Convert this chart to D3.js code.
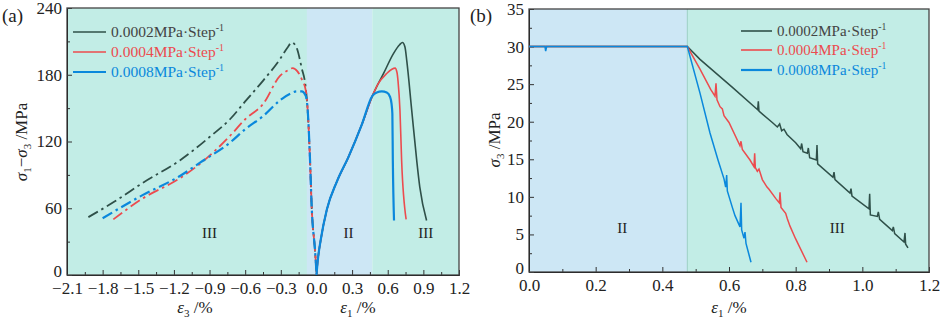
<!DOCTYPE html>
<html>
<head>
<meta charset="utf-8">
<script src="https://cdn.jsdelivr.net/npm/d3@7"></script>
<style>
  body { margin: 0; background: #fff; }
  svg text { font-family: "Liberation Serif", "Times New Roman", serif; }
</style>
</head>
<body>
<div id="chart"></div>
<script>
// Series names and colours
const seriesNames = ["0.0002MPa·Step", "0.0004MPa·Step", "0.0008MPa·Step"];
const seriesColors = ["#2f5049", "#ec4b4e", "#0a88dc"];

// (a) lateral strain branch (eps3, sigma1 - sigma3), dash-dot
const aLat02 = [[-1.92,52],[-1.70,66],[-1.46,83],[-1.15,103],[-0.90,124],[-0.728,140],[-0.60,156],[-0.447,175],[-0.307,194],[-0.24,205],[-0.208,209],[-0.17,205],[-0.124,186],[-0.09,168],[-0.075,150],[-0.054,103],[-0.04,61],[-0.012,22],[0,3]];
const aLat04 = [[-1.71,50],[-1.46,69],[-1.149,87],[-0.98,100],[-0.728,125],[-0.60,140],[-0.447,154],[-0.307,179],[-0.24,184],[-0.20,186],[-0.16,183],[-0.124,176],[-0.09,166],[-0.075,150],[-0.054,103],[-0.04,61],[-0.012,22],[0,3]];
const aLat08 = [[-1.80,51],[-1.46,72],[-1.149,89],[-0.98,101],[-0.728,119],[-0.60,131],[-0.447,143],[-0.307,157],[-0.22,163],[-0.166,165],[-0.124,165],[-0.09,161],[-0.075,150],[-0.054,103],[-0.04,61],[-0.012,22],[0,3]];

// (a) axial strain branch (eps1, sigma1 - sigma3), solid
const aAx02 = [[0,0],[0.012,14],[0.035,31],[0.088,59],[0.172,84],[0.269,106],[0.381,135],[0.471,161],[0.52,172],[0.564,181],[0.648,199],[0.70,207],[0.724,209],[0.745,205],[0.761,192],[0.802,148],[0.844,103],[0.87,79],[0.927,49]];
const aAx04 = [[0,0],[0.012,14],[0.035,31],[0.088,59],[0.172,84],[0.269,106],[0.381,135],[0.471,161],[0.52,172],[0.59,181],[0.635,185],[0.662,186],[0.678,182],[0.687,174],[0.703,148],[0.717,103],[0.755,50]];
const aAx08 = [[0,0],[0.012,14],[0.035,31],[0.088,59],[0.172,84],[0.269,106],[0.381,135],[0.471,161],[0.508,164],[0.55,165],[0.592,164],[0.62,160],[0.632,154],[0.639,145],[0.643,103],[0.653,49]];

// (b) confining stress sigma3 vs eps1
const b02 = [[0,30],[0.475,30],[0.513,28.3],[0.612,24.5],[0.686,21.6],[0.688,22.7],[0.690,21.4],[0.73,19.9],[0.745,19.3],[0.752,19.7],[0.758,18.8],[0.765,19.0],[0.774,18.3],[0.80,17.2],[0.815,16.4],[0.818,17.1],[0.822,16.0],[0.835,15.8],[0.838,16.5],[0.842,15.2],[0.862,14.9],[0.864,16.9],[0.866,14.4],[0.912,12.6],[0.915,13.3],[0.918,12.3],[0.963,10.5],[0.966,11.1],[0.969,10.1],[1.02,8.4],[1.022,10.4],[1.024,7.6],[1.045,7.4],[1.048,8.0],[1.052,7.0],[1.09,5.5],[1.093,6.0],[1.097,5.1],[1.125,4.0],[1.128,5.2],[1.13,3.7],[1.137,3.2]];
const b04 = [[0,30],[0.475,30],[0.513,27.0],[0.545,24.3],[0.558,23.4],[0.561,25.1],[0.564,22.9],[0.573,22.0],[0.58,21.7],[0.585,20.8],[0.60,19.9],[0.633,16.8],[0.636,17.4],[0.64,16.3],[0.663,14.9],[0.675,14.0],[0.677,15.8],[0.679,13.9],[0.685,13.4],[0.69,13.7],[0.70,12.3],[0.714,11.3],[0.72,11.0],[0.74,9.8],[0.751,9.2],[0.753,10.6],[0.756,8.6],[0.77,7.8],[0.775,7.1],[0.783,6.1],[0.80,4.4],[0.834,1.3]];
const b08 = [[0,30],[0.048,30],[0.05,29.4],[0.053,30],[0.475,30],[0.513,23.8],[0.543,18.5],[0.567,14.9],[0.585,12.4],[0.590,11.3],[0.593,12.9],[0.595,10.8],[0.61,8.6],[0.618,7.5],[0.633,6.0],[0.636,9.2],[0.638,5.6],[0.645,4.5],[0.648,5.3],[0.651,3.8],[0.66,2.3],[0.666,1.3]];

// Stage regions
const aStages = [{from: -2.1, to: -0.08, name: "III"}, {from: -0.08, to: 0.47, name: "II"}, {from: 0.47, to: 1.2, name: "III"}];
const bStages = [{from: 0, to: 0.475, name: "II"}, {from: 0.475, to: 1.2, name: "III"}];

// Tick labels
const aXTicks = [-2.1, -1.8, -1.5, -1.2, -0.9, -0.6, -0.3, 0.0, 0.3, 0.6, 0.9, 1.2];
const aYTicks = [0, 60, 120, 180, 240];
const bXTicks = [0.0, 0.2, 0.4, 0.6, 0.8, 1.0, 1.2];
const bYTicks = [0, 5, 10, 15, 20, 25, 30, 35];

const stageColor = {II: "#cde7f5", III: "#c2ede6"};

const svg = d3.select("#chart").append("svg")
  .attr("width", 941)
  .attr("height", 321);

// Dibuja un panel con fondo, ejes, curvas
function panel(opts) {
  const x = d3.scaleLinear().domain(opts.xDomain).range(opts.xRange);
  const y = d3.scaleLinear().domain(opts.yDomain).range(opts.yRange);
  const g = svg.append("g");

  // background stages
  g.selectAll(".stage").data(opts.stages).join("rect")
    .attr("x", d => x(d.from))
    .attr("y", opts.yRange[1])
    .attr("width", d => x(d.to) - x(d.from))
    .attr("height", opts.yRange[0] - opts.yRange[1])
    .attr("fill", d => stageColor[d.name]);

  if (opts.boundaryLine) {
    g.append("line")
      .attr("x1", x(opts.boundaryLine)).attr("x2", x(opts.boundaryLine))
      .attr("y1", opts.yRange[1]).attr("y2", opts.yRange[0])
      .attr("stroke", "#9ccfc5").attr("stroke-width", 1);
  }

  // stage labels
  g.selectAll(".stagelbl").data(opts.stageLabels).join("text")
    .attr("x", d => x(d.x))
    .attr("y", d => y(d.y))
    .attr("text-anchor", "middle")
    .attr("font-size", 15)
    .attr("fill", "#222")
    .text(d => d.name);

  // minor ticks
  const minorX = d3.axisBottom(x).tickValues(opts.xMinor).tickSize(-3).tickFormat("");
  const minorY = d3.axisLeft(y).tickValues(opts.yMinor).tickSize(-3).tickFormat("");
  g.append("g").attr("transform", `translate(0,${opts.yRange[0]})`).call(minorX).call(s => s.select(".domain").remove());
  g.append("g").attr("transform", `translate(${opts.xRange[0]},0)`).call(minorY).call(s => s.select(".domain").remove());

  const xAxis = d3.axisBottom(x).tickValues(opts.xTicks).tickSize(-5).tickPadding(7).tickFormat(d3.format(".1f"));
  const yAxis = d3.axisLeft(y).tickValues(opts.yTicks).tickSize(-5).tickPadding(5).tickFormat(d3.format("d"));
  const gx = g.append("g").attr("transform", `translate(0,${opts.yRange[0]})`).call(xAxis);
  const gy = g.append("g").attr("transform", `translate(${opts.xRange[0]},0)`).call(yAxis);
  [gx, gy].forEach(a => {
    a.selectAll("text").attr("font-family", "Liberation Serif").attr("font-size", 17).attr("fill", "#222");
  });
  gy.selectAll(".tick").filter(d => d == 0).select("text").attr("dy", "0.1em");
  g.selectAll(".tick line").attr("stroke", "#333");

  // frame
  g.append("rect")
    .attr("x", opts.xRange[0]).attr("y", opts.yRange[1])
    .attr("width", opts.xRange[1] - opts.xRange[0])
    .attr("height", opts.yRange[0] - opts.yRange[1])
    .attr("fill", "none").attr("stroke", "#444").attr("stroke-width", 1.3);

  return {x, y, g};
}

// Panel (a)
const pa = panel({
  xDomain: [-2.1, 1.2], xRange: [67, 459],
  yDomain: [0, 240], yRange: [275, 8],
  stages: aStages,
  stageLabels: [{x: -0.9, y: 33, name: "III"}, {x: 0.27, y: 33, name: "II"}, {x: 0.92, y: 33, name: "III"}],
  xTicks: aXTicks, xMinor: aXTicks.slice(0, -1).map(v => v + 0.15),
  yTicks: aYTicks, yMinor: [30, 90, 150, 210]
});

const lineA = d3.line().x(d => pa.x(d[0])).y(d => pa.y(d[1])).curve(d3.curveMonotoneX);
const latSeries = [aLat02, aLat04, aLat08];
const axSeries = [aAx02, aAx04, aAx08];
latSeries.forEach((s, i) => {
  pa.g.append("path").datum(s)
    .attr("d", lineA)
    .attr("fill", "none")
    .attr("stroke", seriesColors[i])
    .attr("stroke-width", i == 2 ? 2.2 : 1.8)
    .attr("stroke-dasharray", "11,4,2.5,4");
});
axSeries.forEach((s, i) => {
  pa.g.append("path").datum(s)
    .attr("d", lineA)
    .attr("fill", "none")
    .attr("stroke", seriesColors[i])
    .attr("stroke-width", i == 2 ? 2.2 : 1.6);
});

// Panel (b)
const pb = panel({
  xDomain: [0, 1.2], xRange: [529, 929],
  yDomain: [0, 35], yRange: [272, 9],
  stages: bStages,
  boundaryLine: 0.475,
  stageLabels: [{x: 0.28, y: 5.2, name: "II"}, {x: 0.925, y: 5.2, name: "III"}],
  xTicks: bXTicks, xMinor: [0.1, 0.3, 0.5, 0.7, 0.9, 1.1],
  yTicks: bYTicks, yMinor: [2.5, 7.5, 12.5, 17.5, 22.5, 27.5, 32.5]
});

const lineB = d3.line().x(d => pb.x(d[0])).y(d => pb.y(d[1]));
[b02, b04, b08].forEach((s, i) => {
  pb.g.append("path").datum(s)
    .attr("d", lineB)
    .attr("fill", "none")
    .attr("stroke", seriesColors[i])
    .attr("stroke-width", 1.5);
});

// Legends
function legend(x0, x1, ys, size) {
  seriesNames.forEach((name, i) => {
    svg.append("line")
      .attr("x1", x0).attr("x2", x1)
      .attr("y1", ys[i]).attr("y2", ys[i])
      .attr("stroke", seriesColors[i])
      .attr("stroke-width", i == 2 ? 2.2 : 1.6);
    const t = svg.append("text")
      .attr("x", x1 + 5).attr("y", ys[i] + 5)
      .attr("font-size", size)
      .attr("fill", i == 0 ? "#444" : seriesColors[i]);
    t.append("tspan").text(name);
    t.append("tspan").attr("font-size", size * 0.65).attr("dy", -6).text("-1");
  });
}
legend(73, 106, [32, 52, 72], 15.5);
legend(741, 772, [31, 50, 70], 15);

// Panel letters
svg.append("text").attr("x", 2).attr("y", 22).attr("font-size", 19).attr("fill", "#222").text("(a)");
svg.append("text").attr("x", 470).attr("y", 22).attr("font-size", 19).attr("fill", "#222").text("(b)");

// Axis titles
function xTitle(cx, sym, sub) {
  const t = svg.append("text").attr("x", cx).attr("y", 313).attr("text-anchor", "middle")
    .attr("font-size", 17).attr("fill", "#222");
  t.append("tspan").attr("font-style", "italic").text(sym);
  t.append("tspan").attr("font-size", 11).attr("dy", 4).text(sub);
  t.append("tspan").attr("dy", -4).text(" /%");
}
xTitle(195, "ε", "3");
xTitle(358, "ε", "1");
xTitle(729, "ε", "1");

function yTitle(cx, cy, parts) {
  const t = svg.append("text")
    .attr("transform", `translate(${cx},${cy}) rotate(-90)`)
    .attr("text-anchor", "middle")
    .attr("font-size", 17).attr("fill", "#222");
  parts.forEach(p => {
    const s = t.append("tspan").text(p.t);
    if (p.it) s.attr("font-style", "italic");
    if (p.sub) s.attr("font-size", 11).attr("dy", 4);
    if (p.up) s.attr("dy", -4);
  });
}
yTitle(27, 142, [{t: "σ", it: true}, {t: "1", sub: true}, {t: "−", up: true}, {t: "σ", it: true}, {t: "3", sub: true}, {t: " /MPa", up: true}]);
yTitle(500, 140, [{t: "σ", it: true}, {t: "3", sub: true}, {t: " /MPa", up: true}]);
</script>
</body>
</html>
